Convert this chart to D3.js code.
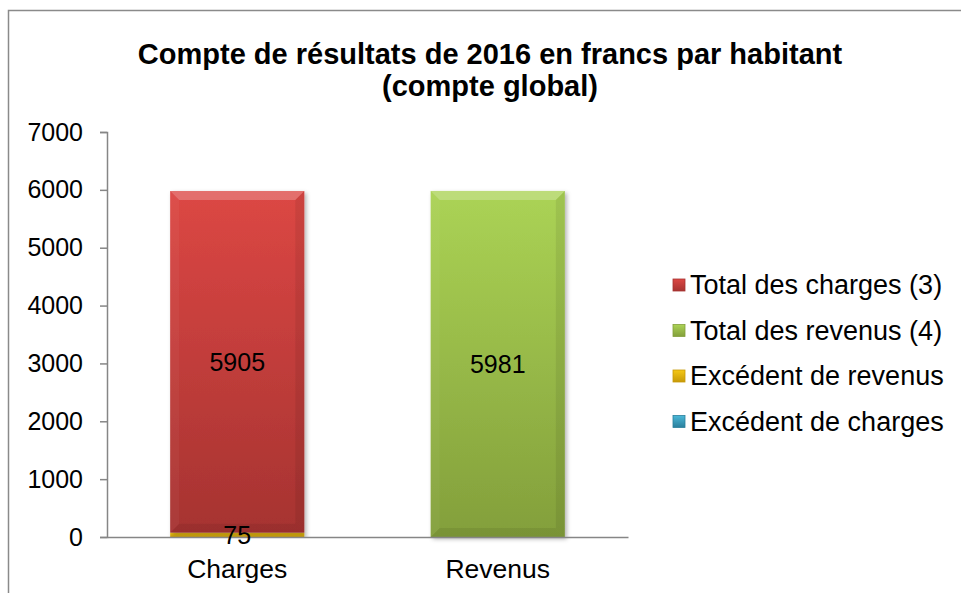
<!DOCTYPE html>
<html>
<head>
<meta charset="utf-8">
<script src="https://cdn.jsdelivr.net/npm/d3@7"></script>
<style>
  body { margin: 0; background: #fff; }
  svg { display: block; font-family: "Liberation Sans", Arial, sans-serif; }
</style>
</head>
<body>
<svg id="chart" width="961" height="593"></svg>
<script>
var categories = ['Charges', 'Revenus'];
var totalCharges = [5905, 0];
var totalRevenus = [0, 5981];
var excedentRevenus = [75, 0];
var excedentCharges = [0, 0];
var yTicks = [0, 1000, 2000, 3000, 4000, 5000, 6000, 7000];

var seriesNames = {
  excRev: 'Excédent de revenus',
  excCha: 'Excédent de charges',
  charges: 'Total des charges (3)',
  revenus: 'Total des revenus (4)'
};
var legendOrder = ['charges', 'revenus', 'excRev', 'excCha'];
var stackOrder = ['excRev', 'excCha', 'charges', 'revenus'];

var colors = {
  charges: ['#dc4744', '#a63331'],
  revenus: ['#abd355', '#839f3b'],
  excRev: ['#f5c816', '#c79a08'],
  excCha: ['#4bb8d8', '#2a7f9c']
};

var fontSize = 25;

var rows = categories.map(function(c, i) {
  return {
    cat: c,
    excRev: excedentRevenus[i],
    excCha: excedentCharges[i],
    charges: totalCharges[i],
    revenus: totalRevenus[i]
  };
});

var svg = d3.select('#chart');
var defs = svg.append('defs');

// vertical gradients for the bars and legend swatches
Object.keys(colors).forEach(function(k) {
  var g = defs.append('linearGradient')
    .attr('id', 'grad-' + k)
    .attr('x1', 0).attr('y1', 0).attr('x2', 0).attr('y2', 1);
  g.append('stop').attr('offset', '0%').attr('stop-color', colors[k][0]);
  g.append('stop').attr('offset', '100%').attr('stop-color', colors[k][1]);
});

var shadow = defs.append('filter').attr('id', 'shadow')
  .attr('x', '-10%').attr('y', '-10%').attr('width', '130%').attr('height', '130%');
shadow.append('feDropShadow')
  .attr('dx', 2).attr('dy', 2).attr('stdDeviation', 2)
  .attr('flood-color', '#000').attr('flood-opacity', 0.3);

// outer frame
svg.append('rect')
  .attr('x', 8.5).attr('y', 10.5)
  .attr('width', 970).attr('height', 620)
  .attr('fill', 'none')
  .attr('stroke', '#8a8a8a')
  .attr('stroke-width', 1.5);

// title
var title = svg.append('text')
  .attr('text-anchor', 'middle')
  .attr('font-weight', 'bold')
  .attr('font-size', 29)
  .attr('fill', '#000');
title.append('tspan').attr('x', 490).attr('y', 64)
  .text('Compte de résultats de 2016 en francs par habitant');
title.append('tspan').attr('x', 490).attr('y', 96)
  .text('(compte global)');

var margin = { left: 107, right: 628, top: 132, bottom: 537 };

var x = d3.scaleBand()
  .domain(categories)
  .range([margin.left, margin.right])
  .paddingInner(0.485)
  .paddingOuter(0.2425);

var y = d3.scaleLinear()
  .domain([0, 7000])
  .range([margin.bottom, margin.top]);

var stacked = d3.stack().keys(stackOrder)(rows);

var bevel = 9;

stacked.forEach(function(layer) {
  var key = layer.key;
  layer.forEach(function(d) {
    var v = d[1] - d[0];
    if (v <= 0) return;
    var x0 = x(d.data.cat);
    var w = x.bandwidth();
    var yTop = y(d[1]);
    var h = y(d[0]) - yTop;
    var g = svg.append('g');

    g.append('rect')
      .attr('x', x0).attr('y', yTop)
      .attr('width', w).attr('height', h)
      .attr('fill', 'url(#grad-' + key + ')')
      .attr('filter', 'url(#shadow)');

    if (h > bevel * 3) {
      // bevel: light top edge, darker sides and bottom
      g.append('polygon')
        .attr('points', [[x0, yTop], [x0 + w, yTop], [x0 + w - bevel, yTop + bevel], [x0 + bevel, yTop + bevel]].join(' '))
        .attr('fill', '#fff').attr('opacity', 0.22);
      g.append('polygon')
        .attr('points', [[x0, yTop + h], [x0 + w, yTop + h], [x0 + w - bevel, yTop + h - bevel], [x0 + bevel, yTop + h - bevel]].join(' '))
        .attr('fill', '#000').attr('opacity', 0.07);
      g.append('polygon')
        .attr('points', [[x0 + w, yTop], [x0 + w, yTop + h], [x0 + w - bevel, yTop + h - bevel], [x0 + w - bevel, yTop + bevel]].join(' '))
        .attr('fill', '#000').attr('opacity', 0.07);
      g.append('polygon')
        .attr('points', [[x0, yTop], [x0, yTop + h], [x0 + bevel, yTop + h - bevel], [x0 + bevel, yTop + bevel]].join(' '))
        .attr('fill', '#fff').attr('opacity', 0.04);
    }
  });
});

// axes
var yAxis = d3.axisLeft(y).tickValues(yTicks).tickSize(7).tickPadding(17).tickFormat(d3.format('d'));
var gy = svg.append('g')
  .attr('transform', 'translate(' + margin.left + ',0)')
  .call(yAxis);
gy.select('.domain').attr('stroke', '#868686').attr('stroke-width', 1.5);
gy.selectAll('.tick line').attr('stroke', '#868686').attr('stroke-width', 1.5);
gy.selectAll('.tick text')
  .attr('font-size', fontSize)
  .attr('font-family', '"Liberation Sans", Arial, sans-serif')
  .attr('fill', '#000');

var xAxis = d3.axisBottom(x).tickSize(0).tickPadding(22);
var gx = svg.append('g')
  .attr('transform', 'translate(0,' + margin.bottom + ')')
  .call(xAxis);
gx.select('.domain').attr('stroke', '#868686').attr('stroke-width', 1.5);
gx.selectAll('.tick text')
  .attr('font-size', 26.5)
  .attr('font-family', '"Liberation Sans", Arial, sans-serif')
  .attr('fill', '#000');

// value labels
stacked.forEach(function(layer) {
  layer.forEach(function(d) {
    var v = d[1] - d[0];
    if (v <= 0) return;
    svg.append('text')
      .attr('x', x(d.data.cat) + x.bandwidth() / 2)
      .attr('y', (y(d[0]) + y(d[1])) / 2)
      .attr('dy', '0.35em')
      .attr('text-anchor', 'middle')
      .attr('font-size', fontSize)
      .attr('fill', '#000')
      .text(v);
  });
});

// legend
var legend = svg.append('g').attr('transform', 'translate(673,0)');
legendOrder.forEach(function(k, i) {
  var cy = 285 + i * 45.5;
  legend.append('rect')
    .attr('x', 0).attr('y', cy - 6)
    .attr('width', 12).attr('height', 12)
    .attr('fill', 'url(#grad-' + k + ')')
    .attr('stroke', colors[k][1]).attr('stroke-width', 0.8);
  legend.append('text')
    .attr('x', 17).attr('y', cy)
    .attr('dy', '0.35em')
    .attr('font-size', 27)
    .attr('fill', '#000')
    .text(seriesNames[k]);
});
</script>
</body>
</html>
